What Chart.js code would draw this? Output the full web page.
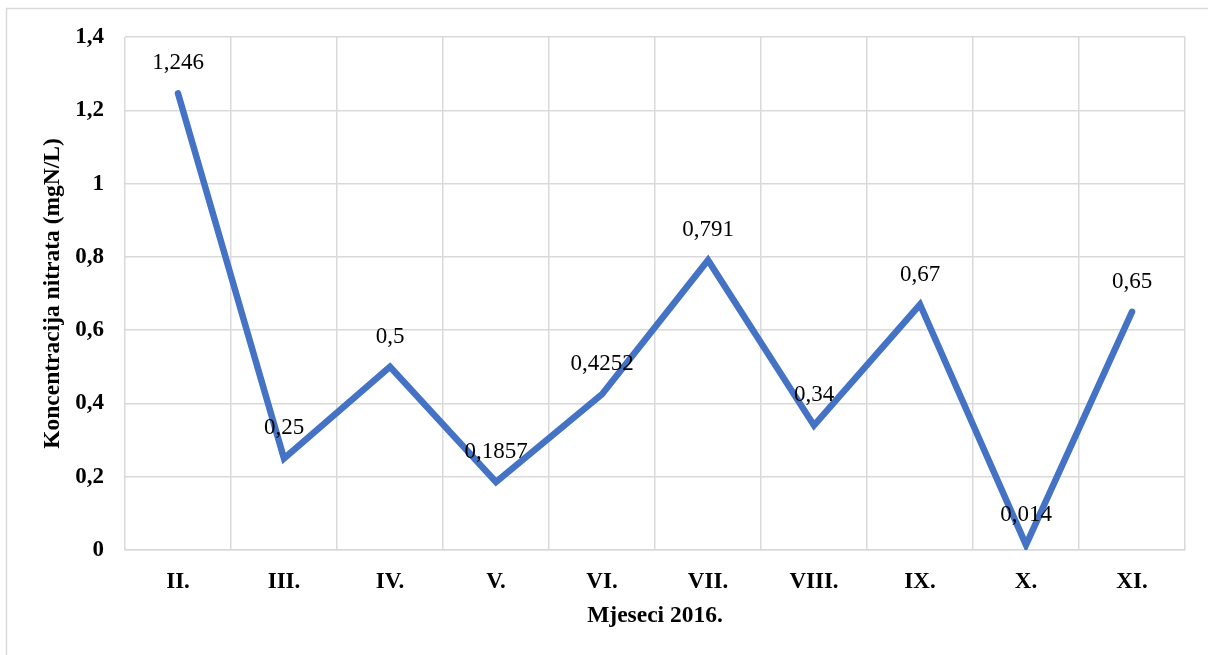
<!DOCTYPE html>
<html>
<head>
<meta charset="utf-8">
<script src="https://cdn.jsdelivr.net/npm/chart.js@4.4.0/dist/chart.umd.min.js"></script>
<style>
html,body{margin:0;padding:0;background:#fff;}
#wrap{width:1208px;height:655px;position:relative;}
</style>
</head>
<body>
<div id="wrap"><canvas id="c" width="1208" height="655"></canvas></div>
<script>
const categories = ["II.", "III.", "IV.", "V.", "VI.", "VII.", "VIII.", "IX.", "X.", "XI."];
const nitrateValues = [1.246, 0.25, 0.5, 0.1857, 0.4252, 0.791, 0.34, 0.67, 0.014, 0.65];
const yTickValues = [0, 0.2, 0.4, 0.6, 0.8, 1, 1.2, 1.4];
const yAxisTitle = "Koncentracija nitrata (mgN/L)";
const xAxisTitle = "Mjeseci 2016.";

const FONT = "'Liberation Serif', 'Times New Roman', serif";
const fmt = v => String(v).replace('.', ',');

const borderPlugin = {
  id: 'outerBorder',
  beforeDraw(chart) {
    const ctx = chart.ctx;
    ctx.save();
    ctx.fillStyle = '#fff';
    ctx.fillRect(0, 0, chart.width, chart.height);
    ctx.strokeStyle = '#d9d9d9';
    ctx.lineWidth = 1.5;
    ctx.strokeRect(6.5, 8.5, 1300, 700);
    ctx.restore();
  }
};

const labelPlugin = {
  id: 'pointLabels',
  afterDatasetsDraw(chart) {
    const ctx = chart.ctx;
    const meta = chart.getDatasetMeta(0);
    ctx.save();
    ctx.font = "23px " + FONT;
    ctx.fillStyle = '#000';
    ctx.textAlign = 'center';
    ctx.textBaseline = 'middle';
    meta.data.forEach((pt, i) => {
      ctx.fillText(fmt(nitrateValues[i]), pt.x, pt.y - 30);
    });
    ctx.restore();
  }
};

new Chart(document.getElementById('c'), {
  type: 'line',
  data: {
    labels: categories,
    datasets: [{
      data: nitrateValues,
      borderColor: '#4472C4',
      borderWidth: 6.5,
      borderJoinStyle: 'miter',
      borderCapStyle: 'round',
      pointRadius: 0,
      pointHoverRadius: 0,
      tension: 0,
      fill: false
    }]
  },
  options: {
    responsive: false,
    animation: false,
    events: [],
    layout: { padding: { top: 37, right: 23, bottom: 0, left: 30 } },
    plugins: { legend: { display: false }, tooltip: { enabled: false } },
    scales: {
      x: {
        offset: true,
        grid: { offset: true, color: '#d9d9d9', lineWidth: 1.5, drawTicks: false },
        border: { color: '#d9d9d9', width: 1.5 },
        ticks: { font: { family: FONT, size: 23, weight: 'bold' }, color: '#000', padding: 18, maxRotation: 0 },
        title: { display: true, text: xAxisTitle, font: { family: FONT, size: 23.5, weight: 'bold' }, color: '#000', padding: { top: 0, bottom: 25 } },
        afterFit(s) { s.height = 105; }
      },
      y: {
        min: 0, max: 1.4,
        afterBuildTicks(s) { s.ticks = yTickValues.map(v => ({ value: v })); },
        grid: { color: '#d9d9d9', lineWidth: 1.5, drawTicks: false },
        border: { display: false },
        ticks: { font: { family: FONT, size: 23, weight: 'bold' }, color: '#000', padding: 21, callback: v => fmt(Math.round(v * 10) / 10) },
        title: { display: true, text: yAxisTitle, font: { family: FONT, size: 23.5, weight: 'bold' }, color: '#000', padding: { top: 9, bottom: 0 } },
        afterFit(s) { s.width = 95; }
      }
    }
  },
  plugins: [borderPlugin, labelPlugin]
});
</script>
</body>
</html>
